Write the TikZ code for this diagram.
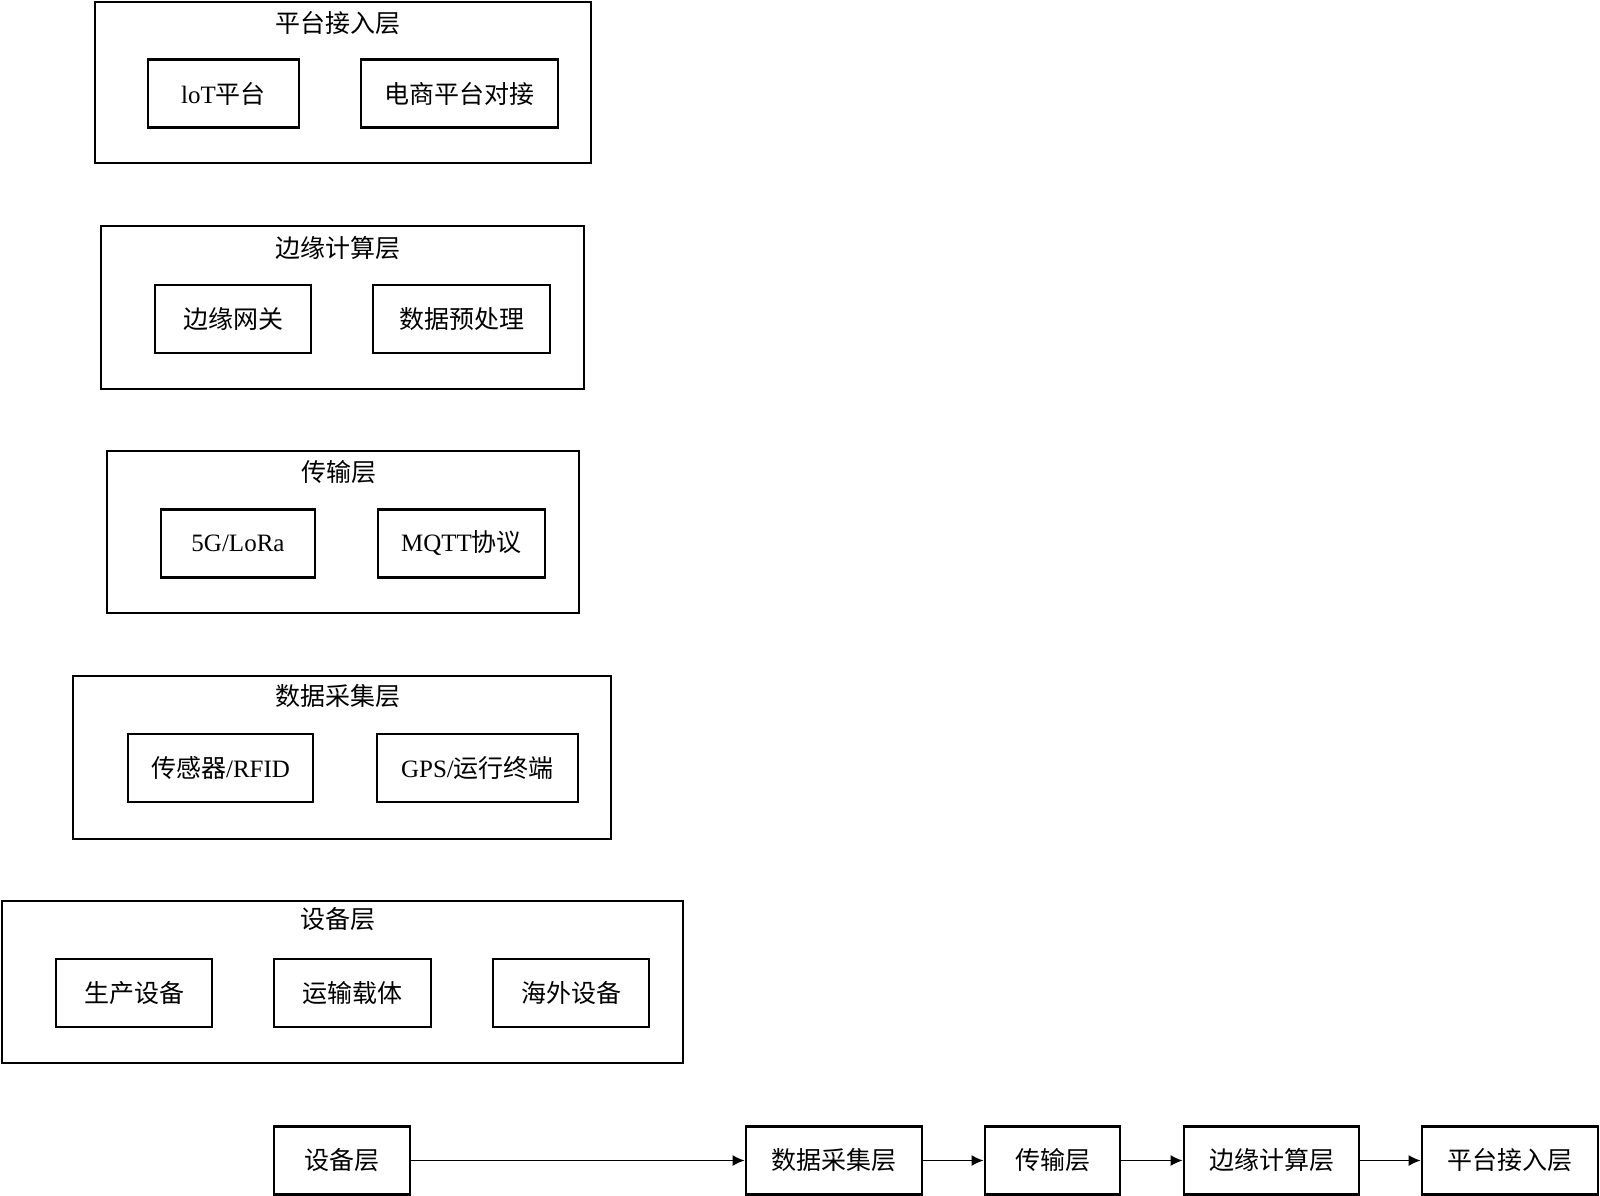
\documentclass[tikz,border=0pt]{standalone}
\usepackage{fontspec}
\setmainfont{Liberation Serif}
\newfontfamily\cjk{Noto Sans CJK SC}
\usetikzlibrary{arrows.meta, positioning}

\begin{document}
\begin{tikzpicture}[x=1pt, y=-1pt,
    every node/.style={font=\fontsize{25}{30}\selectfont, inner sep=0pt},
    layer/.style={draw, line width=2.8pt},
    item/.style={draw, line width=2.8pt, minimum height=68pt},
    flow/.style={-{Latex[length=12pt,width=11pt]}, line width=1.5pt}]
  \useasboundingbox (0,0) rectangle (1600,1195);
  % Platform access layer
  \node[layer, minimum width=496pt, minimum height=161pt] (plat) at (343,82.5) {};
  \node (platT) at (338,23) {\cjk 平台接入层};
  \node[item, minimum width=151pt] (iot) at (223.5,93.5) {loT\cjk 平台};
  \node[item, minimum width=197pt] (shop) at (459.5,93.5) {\cjk 电商平台对接};
  % Edge computing layer
  \node[layer, minimum width=483pt, minimum height=163pt] (edge) at (342.5,307.5) {};
  \node (edgeT) at (338,248) {\cjk 边缘计算层};
  \node[item, minimum width=156pt] (gate) at (233,319) {\cjk 边缘网关};
  \node[item, minimum width=177pt] (prep) at (461.5,319) {\cjk 数据预处理};
  % Transmission layer
  \node[layer, minimum width=472pt, minimum height=162pt] (trans) at (343,532) {};
  \node (transT) at (339,472) {\cjk 传输层};
  \node[item, minimum width=154pt] (lora) at (238,543.5) {5G/LoRa};
  \node[item, minimum width=167pt] (mqtt) at (461.5,543.5) {MQTT\cjk 协议};
  % Data collection layer
  \node[layer, minimum width=538pt, minimum height=163pt] (coll) at (342,757.5) {};
  \node (collT) at (338,696) {\cjk 数据采集层};
  \node[item, minimum width=185pt] (rfid) at (220.5,768) {{\cjk 传感器}/RFID};
  \node[item, minimum width=201pt] (gps) at (477.5,768) {GPS/\cjk 运行终端};
  % Device layer
  \node[layer, minimum width=681pt, minimum height=162pt] (dev) at (342.5,982) {};
  \node (devT) at (338,919) {\cjk 设备层};
  \node[item, minimum width=156pt] (prod) at (134,993) {\cjk 生产设备};
  \node[item, minimum width=157pt] (carr) at (352.5,993) {\cjk 运输载体};
  \node[item, minimum width=156pt] (abrd) at (571,993) {\cjk 海外设备};
  % Flow along the layers
  \node[item, minimum width=136pt] (f1) at (342,1160.5) {\cjk 设备层};
  \node[item, minimum width=176pt] (f2) at (834,1160.5) {\cjk 数据采集层};
  \node[item, minimum width=135pt] (f3) at (1052.5,1160.5) {\cjk 传输层};
  \node[item, minimum width=175pt] (f4) at (1271.5,1160.5) {\cjk 边缘计算层};
  \node[item, minimum width=176pt] (f5) at (1510,1160.5) {\cjk 平台接入层};
  \draw[flow] (f1) -- (f2);
  \draw[flow] (f2) -- (f3);
  \draw[flow] (f3) -- (f4);
  \draw[flow] (f4) -- (f5);
\end{tikzpicture}
\end{document}
